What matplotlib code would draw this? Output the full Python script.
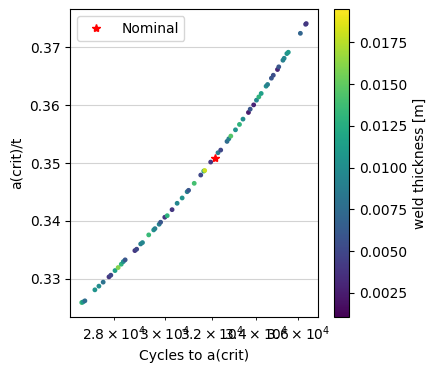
import matplotlib
matplotlib.use('Agg')
import matplotlib.pyplot as plt

# cycles to critical crack size, a(crit)/t and weld thickness for each sample
cycles = [26785, 26830, 26900, 27270, 27420, 27580, 27800, 27870, 28030, 28150,
          28270, 28350, 28420, 28800, 28870, 29030, 29100, 29350, 29550, 29600,
          29770, 29830, 30000, 30100, 30300, 30510, 30720, 30930, 30990, 31230,
          31510, 31640, 31680, 31940, 32260, 32380, 32660, 32740, 32830, 33040,
          33220, 33380, 33630, 33710, 33870, 34000, 34110, 34220, 34450, 34520,
          34700, 34790, 34990, 35050, 35250, 35310, 35440, 35510, 36100, 36360,
          36390]
a_crit = [0.32591, 0.32600, 0.32620, 0.32810, 0.32874, 0.32943, 0.33034, 0.33063, 0.33143, 0.33195,
          0.33253, 0.33298, 0.33328, 0.33488, 0.33512, 0.33603, 0.33626, 0.33759, 0.33845, 0.33867,
          0.33943, 0.33978, 0.34064, 0.34091, 0.34195, 0.34305, 0.34397, 0.34505, 0.34529, 0.34650,
          0.34793, 0.34862, 0.34871, 0.35017, 0.35178, 0.35224, 0.35374, 0.35419, 0.35466, 0.35574,
          0.35667, 0.35759, 0.35874, 0.35931, 0.36005, 0.36086, 0.36143, 0.36202, 0.36328, 0.36357,
          0.36466, 0.36517, 0.36616, 0.36662, 0.36776, 0.36810, 0.36891, 0.36914, 0.37241, 0.37397,
          0.37409]
weld_t = [0.0135, 0.0110, 0.0075, 0.0105, 0.0100, 0.0080, 0.0040, 0.0050, 0.0115, 0.0160,
          0.0130, 0.0100, 0.0060, 0.0040, 0.0050, 0.0090, 0.0095, 0.0135, 0.0105, 0.0090,
          0.0090, 0.0060, 0.0040, 0.0130, 0.0040, 0.0095, 0.0105, 0.0090, 0.0060, 0.0140,
          0.0050, 0.0110, 0.0180, 0.0040, 0.0090, 0.0050, 0.0075, 0.0090, 0.0145, 0.0105,
          0.0130, 0.0100, 0.0025, 0.0060, 0.0030, 0.0095, 0.0130, 0.0115, 0.0100, 0.0090,
          0.0060, 0.0055, 0.0030, 0.0060, 0.0090, 0.0095, 0.0105, 0.0110, 0.0070, 0.0045,
          0.0040]

nominal_cycles = 32120
nominal_a = 0.35086

fig = plt.figure(figsize=(4.36, 3.73), dpi=100)
ax = fig.add_axes([0.1606, 0.150, 0.5688, 0.8257])
cax = fig.add_axes([0.766, 0.150, 0.0344, 0.8257])

sc = ax.scatter(cycles, a_crit, c=weld_t, cmap='viridis', s=6, vmin=0.00106, vmax=0.0195)
ax.plot(nominal_cycles, nominal_a, 'r*', label='Nominal')

ax.set_xscale('log')
ax.set_xlim(26360, 36980)
ax.set_ylim(0.3234, 0.3766)
ax.grid(axis='y', color='lightgray')
ax.set_axisbelow(True)
ax.set_xlabel('Cycles to a(crit)')
ax.set_ylabel('a(crit)/t')
ax.legend(loc='upper left')

cb = fig.colorbar(sc, cax=cax)
cb.set_label('weld thickness [m]')

fig.savefig('out.png', dpi=100)
